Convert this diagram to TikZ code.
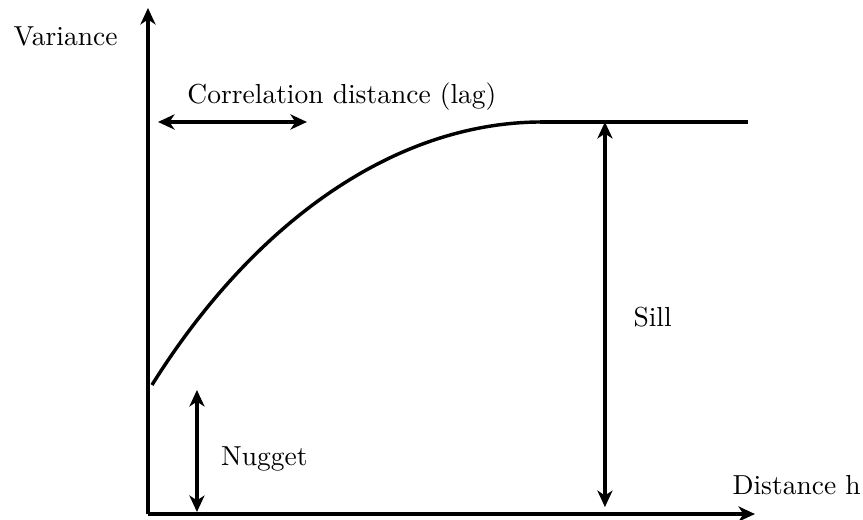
\documentclass[tikz,border=0pt]{standalone}
\usetikzlibrary{arrows.meta}

\tikzset{
	axisline/.style={line width=1.25pt, -{Stealth[length=6pt, width=5.5pt, inset=1.8pt]}},
	dimline/.style={line width=1.25pt, {Stealth[length=6pt, width=5.5pt, inset=1.8pt]}-{Stealth[length=6pt, width=5.5pt, inset=1.8pt]}},
	lbl/.style={anchor=base west, inner sep=0pt}
}

\begin{document}
\begin{tikzpicture}
	\useasboundingbox (-1.891,-0.064) rectangle (9.138,6.569);

	% Оси
	\coordinate (O) at (0,0);
	\coordinate (ytop) at (0,6.467);
	\coordinate (xend) at (7.757,0);
	\draw[axisline] (O) -- (ytop);
	\draw[axisline] (O) -- (xend);

	% Вариограмма
	\coordinate (c0) at (0.051,1.649);
	\coordinate (c1) at (5.010,5.010);
	\coordinate (c2) at (7.668,5.010);
	\draw[line width=1.25pt] (c0) .. controls (1.329,3.693) and (3.118,4.997) .. (c1);
	\draw[line width=1.25pt] (c1) -- (c2);

	% Размеры
	\coordinate (lagA) at (0.128,5.010);
	\coordinate (lagB) at (2.032,5.010);
	\draw[dimline] (lagA) -- (lagB);

	\coordinate (sillA) at (5.840,5.010);
	\coordinate (sillB) at (5.840,0.089);
	\draw[dimline] (sillA) -- (sillB);

	\coordinate (nugA) at (0.626,1.585);
	\coordinate (nugB) at (0.626,0.026);
	\draw[dimline] (nugA) -- (nugB);

	% Подписи
	\node[lbl] (variance) at (-1.725,5.985) {Variance};
	\node[lbl] (corr) at (0.498,5.249) {Correlation distance (lag)};
	\node[lbl] (sill) at (6.198,2.390) {Sill};
	\node[lbl] (nugget) at (0.929,0.617) {Nugget};
	\node[lbl] (dist) at (7.464,0.243) {Distance h};
\end{tikzpicture}
\end{document}
